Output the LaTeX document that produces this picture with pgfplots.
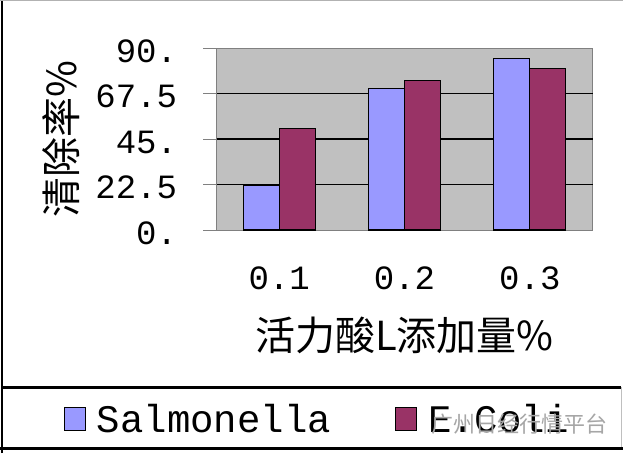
\documentclass[border=0pt]{standalone}
\usepackage{pgfplots}
\pgfplotsset{compat=1.18}
\usepackage{fontspec}
\setmainfont{Liberation Mono}
\newfontfamily\cjk{Noto Sans CJK SC}
\definecolor{salm}{HTML}{9999FF}
\definecolor{ecoli}{HTML}{993366}
\definecolor{plotbg}{HTML}{C0C0C0}
\definecolor{axgray}{HTML}{808080}

\begin{document}
\begin{tikzpicture}[x=1pt,y=1pt]
\useasboundingbox (0,0) rectangle (623,453);
\fill[white] (0,0) rectangle (623,453);
\begin{axis}[
 at={(216.5pt,223pt)}, anchor=south west,
 scale only axis, width=376pt, height=182pt,
 xmin=-0.5, xmax=2.5, ymin=0, ymax=90,
 axis background/.style={fill=plotbg},
 axis line style={draw=axgray, line width=1pt},
 ybar=0pt, bar width=0.287,
 xtick={0,1,2}, xticklabels={0.1,0.2,0.3},
 x tick style={draw=none},
 extra x ticks={-0.5,0.5,1.5,2.5}, extra x tick labels={},
 extra x tick style={tick style={draw=axgray, line width=1pt}},
 ytick={0,22.5,45,67.5,90}, yticklabels={0.,22.5,45.,67.5,90.},
 y tick style={draw=axgray, line width=1pt},
 extra y ticks={22.5,45,67.5}, extra y tick labels={},
 extra y tick style={grid=major, major grid style={black, line width=1.6pt}, tick style={draw=none}},
 tick align=outside, major tick length=13pt,
 xtick pos=bottom, ytick pos=left,
 ticklabel style={font=\fontsize{34}{34}\selectfont},
 yticklabel style={xshift=-23pt, yshift=-3pt},
 xticklabel style={yshift=-20pt},
 xlabel={\cjk 活力酸L添加量\%},
 xlabel style={at={(axis description cs:0.5,-0.577)}, anchor=center, font=\fontsize{40}{40}\selectfont},
 ylabel={\cjk 清除率\%},
 ylabel style={at={(axis description cs:-0.4136,0.5)}, anchor=center, rotate=0, font=\fontsize{40}{40}\selectfont},
 legend columns=2,
 legend style={at={(axis description cs:-0.4056,-1.041)}, anchor=west, draw=none, fill=none,
   inner sep=0pt, outer sep=0pt, nodes={inner sep=0pt},
   font=\fontsize{39}{39}\selectfont,
   /tikz/every odd column/.append style={column sep=11pt},
   /tikz/every even column/.append style={column sep=64pt}},
 legend image code/.code={\draw[#1, line width=1pt] (0pt,-11.5pt) rectangle (21pt,11.5pt);},
]
\addplot[fill=salm, draw=black, line width=1.2pt] coordinates {(0,22.3) (1,69.9) (2,84.9)};
\addplot[fill=ecoli, draw=black, line width=1.2pt] coordinates {(0,50.3) (1,74.0) (2,80.0)};
\legend{Salmonella, E.Coli}
\end{axis}
\draw[black, line width=2pt] (2,0) -- (2,453);
\draw[gray!60, line width=1pt] (0,452.5) -- (623,452.5);
\draw[gray!50, line width=1pt] (621.5,4) -- (621.5,66);
\draw[black, line width=2.5pt] (2,65.5) -- (621,65.5);
\draw[black, line width=3pt] (0,4.5) -- (623,4.5);
\node[text=gray!70, font=\cjk\fontsize{22}{22}\selectfont] at (519.5,29) {广州日经行情平台};
\end{tikzpicture}
\end{document}
